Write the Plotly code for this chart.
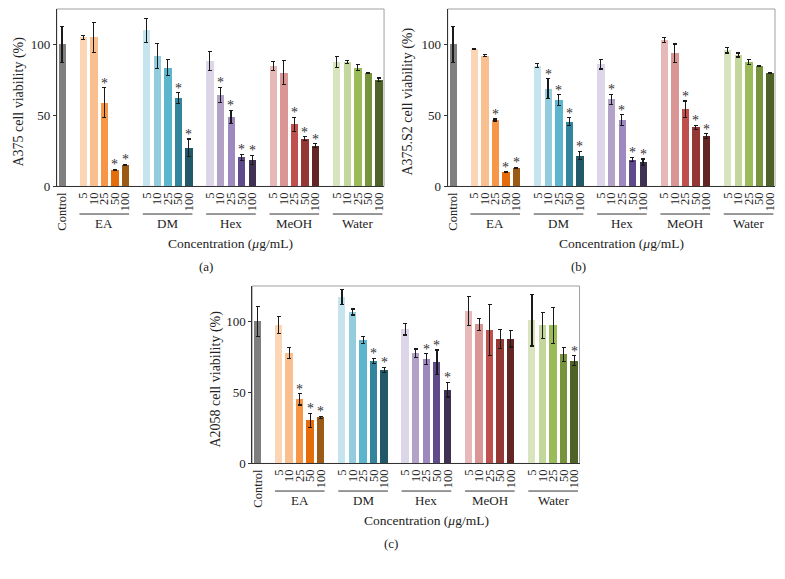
import plotly.graph_objects as go

# ---------------- data ----------------
groups = ["EA", "DM", "Hex", "MeOH", "Water"]
concs = ["5", "10", "25", "50", "100"]
control_label = "Control"

ctrl_color = "#7f7f7f"
group_colors = [
    ["#fcd5b5", "#fabf8f", "#f79646", "#e46c0a", "#9c5a17"],   # EA
    ["#c5e4ee", "#93cddd", "#5bb5cd", "#31859c", "#215968"],   # DM
    ["#dcd6e8", "#b3a2c7", "#9d89bf", "#5f4b8b", "#3f3151"],   # Hex
    ["#e6b9b8", "#d99694", "#c0504d", "#953735", "#632523"],   # MeOH
    ["#d7e4bd", "#c3d69b", "#9bbb59", "#77933c", "#4f6228"],   # Water
]

# order: Control, EA x5, DM x5, Hex x5, MeOH x5, Water x5
a_mean = [100, 105, 105, 59, 11.5, 15,
          110, 92, 83.6, 62.4, 27.2,
          88.5, 64.5, 49, 20.5, 18.7,
          84.8, 80.2, 43.8, 33.6, 28.6,
          87.8, 87.6, 83.6, 80, 75.3]
a_err = [12.7, 1.5, 10.5, 10.4, 0.5, 0.5,
         8.3, 8.8, 5.5, 3.7, 6.2,
         6.8, 5.2, 4.6, 2, 3.2,
         3.2, 8.6, 4.8, 1.4, 1.4,
         3.9, 0.9, 2, 0.4, 1.1]
a_sig = [0, 0, 0, 1, 1, 1,
         0, 0, 0, 1, 1,
         0, 1, 1, 1, 1,
         0, 0, 1, 1, 1,
         0, 0, 0, 0, 0]

b_mean = [100, 96.8, 92.2, 46.8, 10.1, 13.1,
          85, 68.9, 60.8, 45.6, 21.7,
          86.2, 61.3, 46.8, 18.9, 17,
          103, 93.8, 54.4, 41.7, 35.5,
          96, 92.6, 87.8, 85, 79.7]
b_err = [12.7, 0.3, 0.9, 0.7, 0.3, 0.3,
         1.5, 6.9, 3.8, 2.8, 3,
         3.5, 3.5, 3.8, 1.5, 2.3,
         1.8, 6.5, 5.8, 1.5, 1.7,
         2, 1.4, 1.6, 0.3, 0.3]
b_sig = [0, 0, 0, 1, 1, 1,
         0, 1, 1, 1, 1,
         0, 1, 1, 1, 1,
         0, 0, 1, 1, 1,
         0, 0, 0, 0, 0]

c_mean = [100, 97.7, 78, 45.1, 30.3, 32.4,
          117.4, 106.7, 86.8, 72.2, 66,
          94.4, 77.5, 73.6, 71.3, 52,
          107.4, 98.1, 94, 87.7, 87.7,
          101, 97.2, 97.2, 77, 72.5]
c_err = [10.8, 6.1, 3.9, 3.9, 4.9, 0.8,
         5.4, 2.1, 2.4, 2, 1.7,
         3.9, 3.1, 3.7, 8.6, 5.2,
         10.4, 4.3, 18, 6.5, 5.7,
         18.3, 8.9, 12.5, 4.9, 3.4]
c_sig = [0, 0, 0, 1, 1, 1,
         0, 0, 0, 1, 1,
         0, 0, 1, 1, 1,
         0, 0, 0, 0, 0,
         0, 0, 0, 0, 1]

y_titles = ["A375 cell viability (%)", "A375.S2 cell viability (%)", "A2058 cell viability (%)"]
panel_tags = ["(a)", "(b)", "(c)"]
x_title = "Concentration (<i>μ</i>g/mL)"
y_ticks = [0, 50, 100]

# ---------------- layout helpers ----------------
# page body has an 8px margin: the figure is drawn 8px in from the window edges
OFF = 8
W, H = 785 - 2 * OFF, 579 - 2 * OFF
FONT = "Liberation Serif, Times New Roman, serif"
TXT = "#222222"


def px_x(p):
    return (p - OFF) / W


def px_y(p):
    return 1 - (p - OFF) / H


# positions: control at 0, each group of 5 after a one-slot gap
positions = [0] + [2 + 6 * g + i for g in range(len(groups)) for i in range(len(concs))]
tick_text = [control_label] + [c for _ in groups for c in concs]
bar_colors = [ctrl_color] + [col for row in group_colors for col in row]

# panel boxes in window pixels: (left, right, top, bottom)
boxes = [(55, 384, 9, 189), (448, 777, 9, 189), (251.5, 580.5, 290, 470)]
ytitle_x = [17, 408, 215]
tag_x = [196, 589, 391]

panels = [(a_mean, a_err, a_sig), (b_mean, b_err, b_sig), (c_mean, c_err, c_sig)]

fig = go.Figure()
annotations = []
shapes = []
layout = {}

for k, (means, errs, sig) in enumerate(panels):
    xa = "x" if k == 0 else f"x{k+1}"
    ya = "y" if k == 0 else f"y{k+1}"
    left, right, top, bottom = boxes[k]
    fig.add_trace(go.Bar(
        x=positions, y=means, width=0.7,
        marker=dict(color=bar_colors, line=dict(width=0)),
        error_y=dict(type="data", array=errs, visible=True,
                     color="#1a1a1a", thickness=1.1, width=2),
        xaxis=xa, yaxis=ya, showlegend=False, hoverinfo="skip",
    ))
    xkey = "xaxis" if k == 0 else f"xaxis{k+1}"
    ykey = "yaxis" if k == 0 else f"yaxis{k+1}"
    layout[xkey] = dict(
        domain=[px_x(left), px_x(right)], anchor=ya,
        range=[-0.5, 30.5], tickmode="array", tickvals=positions, ticktext=tick_text,
        tickangle=-90, tickfont=dict(family=FONT, size=12.5, color=TXT),
        showline=True, linecolor="#333333", linewidth=1, ticks="", showgrid=False,
        zeroline=False, fixedrange=True,
    )
    layout[ykey] = dict(
        domain=[px_y(bottom), px_y(top)], anchor=xa,
        range=[0, 125], tickvals=y_ticks, ticktext=[str(v) for v in y_ticks],
        tickfont=dict(family=FONT, size=13, color=TXT),
        showline=True, linecolor="#333333", linewidth=1, ticks="outside",
        ticklen=3, tickcolor="#333333", showgrid=False, zeroline=False, fixedrange=True,
    )
    # frame
    shapes.append(dict(type="rect", xref=f"{xa} domain", yref=f"{ya} domain",
                       x0=0, x1=1, y0=0, y1=1, line=dict(color="#a0a0a0", width=1),
                       layer="below"))
    off = bottom - 189
    # group lines and labels
    for g, name in enumerate(groups):
        x0 = 2 + 6 * g
        shapes.append(dict(type="line", xref=xa, yref="paper",
                           x0=x0 - 0.35, x1=x0 + 4.35,
                           y0=px_y(217 + off), y1=px_y(217 + off),
                           line=dict(color="#333333", width=1)))
        annotations.append(dict(xref=xa, yref="paper", x=x0 + 2, y=px_y(227 + off),
                                text=name, showarrow=False, yanchor="middle",
                                font=dict(family=FONT, size=13, color=TXT)))
    # x title
    annotations.append(dict(xref=xa, yref="paper", x=16, y=px_y(247 + off),
                            text=x_title, showarrow=False, yanchor="middle",
                            font=dict(family=FONT, size=13.5, color=TXT)))
    # panel tag
    annotations.append(dict(xref="paper", yref="paper", x=px_x(tag_x[k]), y=px_y(270 + off),
                            text=panel_tags[k], showarrow=False, yanchor="middle",
                            font=dict(family=FONT, size=13, color=TXT)))
    # y title
    annotations.append(dict(xref="paper", yref="paper", x=px_x(ytitle_x[k]),
                            y=px_y((top + bottom) / 2 + 4), text=y_titles[k], textangle=-90,
                            showarrow=False, xanchor="center", yanchor="middle",
                            font=dict(family=FONT, size=14, color=TXT)))
    # significance stars
    for p, m, e, s in zip(positions, means, errs, sig):
        if s:
            annotations.append(dict(xref=xa, yref=ya, x=p, y=m + e, text="*",
                                    showarrow=False, yanchor="bottom", yshift=-5,
                                    font=dict(family=FONT, size=14, color="#333333")))

fig.update_layout(
    width=W, height=H, margin=dict(l=0, r=0, t=0, b=0),
    paper_bgcolor="white", plot_bgcolor="white", showlegend=False,
    bargap=0, annotations=annotations, shapes=shapes,
    font=dict(family=FONT, color=TXT),
    **layout,
)

fig.write_html("out.html")
